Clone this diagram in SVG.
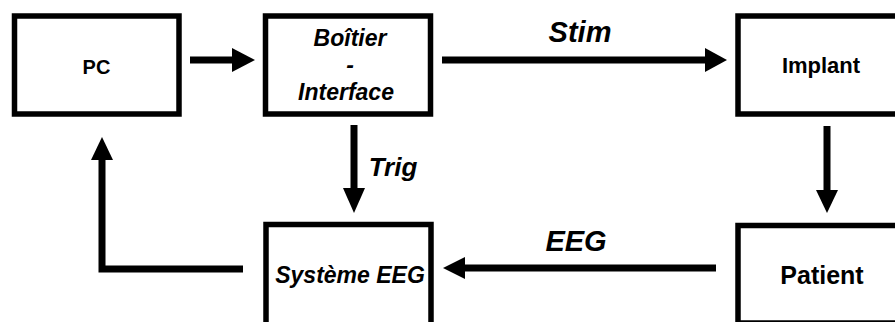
<svg xmlns="http://www.w3.org/2000/svg" width="895" height="322" viewBox="0 0 895 322">
<defs>
<style>
.box{fill:#fff;stroke:#000;stroke-width:5.5}
.ln{fill:none;stroke:#000;stroke-width:7}
.hd{fill:#000}
.t{font-family:"Liberation Sans",Arial,sans-serif;font-weight:bold;fill:#000;text-anchor:middle}
.i{font-style:italic}
</style>
</defs>
<g id="connectors">
<line class="ln" x1="190" y1="60" x2="234" y2="60"/>
<polygon class="hd" points="232,48 255,60 232,72"/>
<line class="ln" x1="442" y1="60" x2="707" y2="60"/>
<polygon class="hd" points="705,48 727,60 705,72"/>
<line class="ln" x1="354" y1="125" x2="354" y2="190"/>
<polygon class="hd" points="343,188 354,213 365,188"/>
<line class="ln" x1="827" y1="126" x2="827" y2="192"/>
<polygon class="hd" points="816,190 827,213 838,190"/>
<line class="ln" x1="716" y1="268" x2="463" y2="268"/>
<polygon class="hd" points="465,257 443,268 465,279"/>
<polyline class="ln" points="243,269 102,269 102,158"/>
<polygon class="hd" points="91,160 102,137 113,160"/>
<text class="t i" x="580" y="42" font-size="29">Stim</text>
<text class="t i" x="393" y="176" font-size="26">Trig</text>
<text class="t i" x="576" y="251" font-size="29">EEG</text>
</g>
<g id="pc">
<rect class="box" x="14.5" y="16" width="164.5" height="98"/>
<text class="t" x="96.5" y="74" font-size="20">PC</text>
</g>
<g id="boitier">
<rect class="box" x="265.5" y="16" width="165" height="98"/>
<text class="t i" x="350" y="46" font-size="23">Boîtier</text>
<text class="t i" x="350" y="73" font-size="23">-</text>
<text class="t i" x="346" y="100" font-size="23">Interface</text>
</g>
<g id="implant">
<rect class="box" x="738" y="16" width="200" height="98"/>
<text class="t" x="821" y="73" font-size="22">Implant</text>
</g>
<g id="systeme">
<rect class="box" x="266" y="224.5" width="165" height="130"/>
<text class="t i" x="350" y="283" font-size="23">Système EEG</text>
</g>
<g id="patient">
<rect class="box" x="738" y="225.5" width="200" height="97.5"/>
<text class="t" x="822" y="284" font-size="25">Patient</text>
</g>
</svg>
